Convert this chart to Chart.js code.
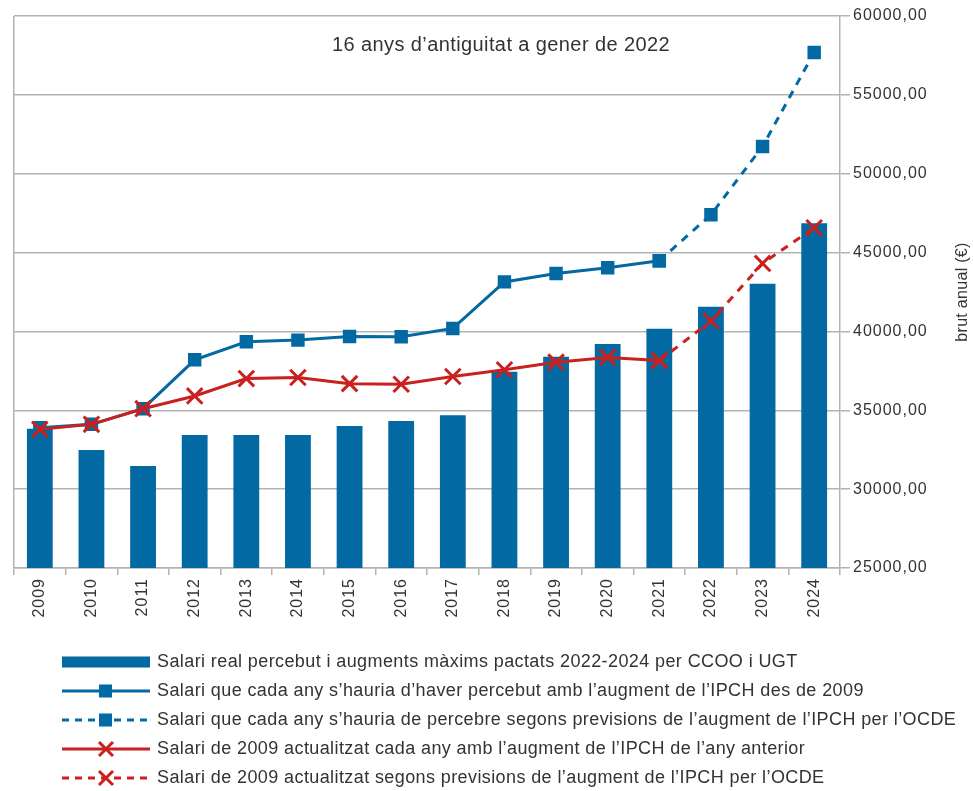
<!DOCTYPE html>
<html>
<head>
<meta charset="utf-8">
<script src="https://cdn.jsdelivr.net/npm/chart.js@4/dist/chart.umd.min.js"></script>
<style>
  body { margin: 0; background: #fff; }
  #wrap { position: relative; width: 973px; height: 791px; }
  #myChart { display: block; }
  #legend { position: absolute; left: 62px; top: 647px; font: 18px "Liberation Sans", Arial, sans-serif; color: #333; letter-spacing: 0.4px; }
  .row { height: 29px; display: flex; align-items: center; white-space: nowrap; }
  .row canvas { margin-right: 7px; }
</style>
</head>
<body>
<div id="wrap">
  <canvas id="myChart" width="973" height="640"></canvas>
  <div id="legend"></div>
</div>
<script>
const labels = ['2009','2010','2011','2012','2013','2014','2015','2016','2017','2018','2019','2020','2021','2022','2023','2024'];

// salari real (barres)
const salariReal = [33830, 32480, 31460, 33430, 33430, 33430, 34000, 34320, 34680, 37450, 38390, 39200, 40170, 41560, 43020, 46860];
// salari amb l'IPCH acumulat des de 2009
const salariIpch = [33900, 34110, 35100, 38200, 39340, 39450, 39680, 39660, 40190, 43140, 43670, 44040, 44480, null, null, null];
const salariIpchPrevisio = [null, null, null, null, null, null, null, null, null, null, null, null, 44480, 47400, 51730, 57690];
// salari de 2009 actualitzat amb l'IPCH de l'any anterior
const salari2009 = [33790, 34110, 35100, 35910, 37010, 37080, 36690, 36650, 37140, 37570, 38050, 38350, 38150, null, null, null];
const salari2009Previsio = [null, null, null, null, null, null, null, null, null, null, null, null, 38150, 40660, 44310, 46570];

const yMin = 25000;
const yMax = 60000;
const yStep = 5000;

const titol = '16 anys d\u2019antiguitat a gener de 2022';
const titolEix = 'brut anual (€)';
const llegenda = [
  'Salari real percebut i augments màxims pactats 2022-2024 per CCOO i UGT',
  'Salari que cada any s\u2019hauria d\u2019haver percebut amb l\u2019augment de l\u2019IPCH des de 2009',
  'Salari que cada any s\u2019hauria de percebre segons previsions de l\u2019augment de l\u2019IPCH per l\u2019OCDE',
  'Salari de 2009 actualitzat cada any amb l\u2019augment de l\u2019IPCH de l\u2019any anterior',
  'Salari de 2009 actualitzat segons previsions de l\u2019augment de l\u2019IPCH per l\u2019OCDE'
];

const blau = '#0369a3';
const vermell = '#c9211e';
const gris = '#b3b3b3';
const text = '#333333';
const font = '"Liberation Sans", Arial, sans-serif';

const textos = {
  id: 'textos',
  beforeDraw(chart) {
    chart.ctx.letterSpacing = '1px';
  },
  afterDraw(chart) {
    const { ctx, chartArea } = chart;
    ctx.save();
    ctx.fillStyle = text;
    ctx.textAlign = 'center';
    ctx.textBaseline = 'middle';
    ctx.letterSpacing = '0.4px';
    ctx.font = '20px ' + font;
    ctx.fillText(titol, chartArea.left + 487, chartArea.top + 29);
    ctx.translate(963, (chartArea.top + chartArea.bottom) / 2);
    ctx.rotate(-Math.PI / 2);
    ctx.font = '16px ' + font;
    ctx.letterSpacing = '0.3px';
    ctx.fillText(titolEix, 0, 0);
    ctx.restore();
  }
};

function myChart() {
  const ctx = document.getElementById('myChart');

  const linia = (label, data, color, estil, dash, ordre) => ({
    type: 'line',
    label: label,
    data: data,
    borderColor: color,
    backgroundColor: color,
    borderWidth: 3,
    borderDash: dash,
    pointStyle: estil,
    pointRadius: estil === 'rect' ? 9.5 : 11,
    pointBorderWidth: estil === 'rect' ? 0 : 3,
    pointBackgroundColor: color,
    pointBorderColor: color,
    spanGaps: false,
    order: ordre
  });

  new Chart(ctx, {
    type: 'bar',
    data: {
      labels: labels,
      datasets: [
        { type: 'bar', label: llegenda[0], data: salariReal, backgroundColor: blau, barPercentage: 0.5, categoryPercentage: 1, order: 10 },
        linia(llegenda[1], salariIpch, blau, 'rect', [], 4),
        linia(llegenda[2], salariIpchPrevisio, blau, 'rect', [8, 7], 3),
        linia(llegenda[3], salari2009, vermell, 'crossRot', [], 2),
        linia(llegenda[4], salari2009Previsio, vermell, 'crossRot', [8, 7], 1)
      ]
    },
    options: {
      responsive: false,
      animation: false,
      layout: { padding: { left: 11, top: 16, right: 0, bottom: 0 } },
      plugins: {
        legend: { display: false },
        tooltip: { enabled: false }
      },
      scales: {
        x: {
          grid: {
            offset: true,
            color: (c) => c.index === 0 ? gris : 'rgba(0,0,0,0)',
            tickColor: gris,
            tickLength: 7,
            lineWidth: 1.5
          },
          border: { color: gris, width: 1.5 },
          ticks: { minRotation: 90, maxRotation: 90, padding: 3, color: text, font: { family: font, size: 16 } },
          afterFit: (s) => { s.height = 72; }
        },
        y: {
          position: 'right',
          min: yMin,
          max: yMax,
          grid: { color: gris, tickLength: 10, lineWidth: 1.5 },
          border: { color: gris, width: 1.5 },
          ticks: {
            stepSize: yStep,
            padding: 3,
            color: text,
            font: { family: font, size: 16 },
            callback: (v) => v.toFixed(2).replace('.', ',')
          },
          afterFit: (s) => { s.width = 133; }
        }
      }
    },
    plugins: [textos]
  });
}

// mostres de la llegenda
function mostra(tipus, color, dash, marca) {
  const c = document.createElement('canvas');
  c.width = 88; c.height = 20;
  const g = c.getContext('2d');
  g.fillStyle = color; g.strokeStyle = color;
  if (tipus === 'barra') {
    g.fillRect(0, 4.5, 88, 11);
  } else {
    g.lineWidth = 3;
    g.setLineDash(dash);
    g.beginPath(); g.moveTo(0, 10); g.lineTo(88, 10); g.stroke();
    g.setLineDash([]);
    if (marca === 'rect') {
      g.fillRect(37, 3.5, 13, 13);
    } else {
      g.beginPath();
      g.moveTo(37, 3); g.lineTo(51, 17); g.moveTo(51, 3); g.lineTo(37, 17);
      g.stroke();
    }
  }
  return c;
}

function ferLlegenda() {
  const mostres = [
    mostra('barra', blau),
    mostra('linia', blau, [], 'rect'),
    mostra('linia', blau, [7, 6], 'rect'),
    mostra('linia', vermell, [], 'cross'),
    mostra('linia', vermell, [7, 6], 'cross')
  ];
  const el = document.getElementById('legend');
  llegenda.forEach((t, i) => {
    const row = document.createElement('div');
    row.className = 'row';
    row.appendChild(mostres[i]);
    const s = document.createElement('span');
    s.textContent = t;
    row.appendChild(s);
    el.appendChild(row);
  });
}

myChart();
ferLlegenda();
</script>
</body>
</html>
